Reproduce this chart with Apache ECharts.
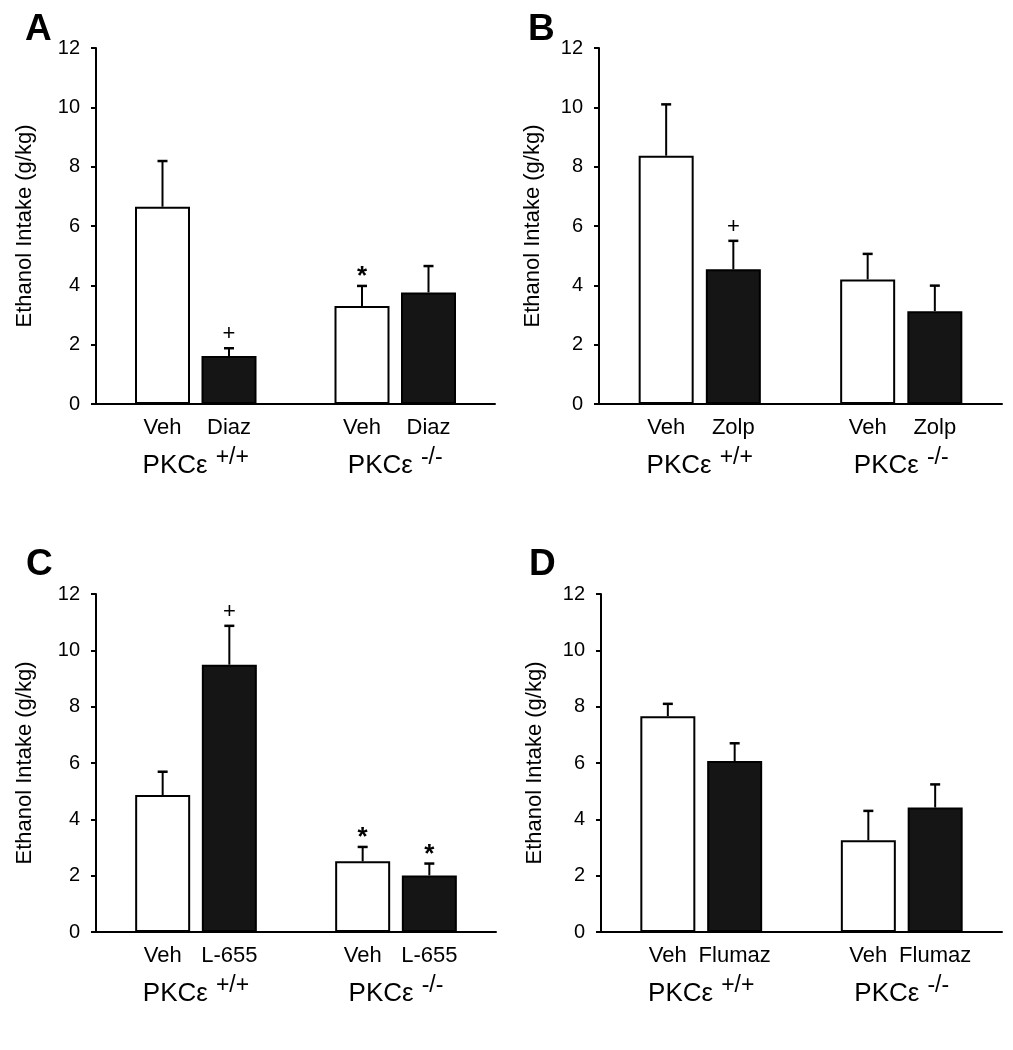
<!DOCTYPE html>
<html>
<head>
<meta charset="utf-8">
<script src="https://cdn.jsdelivr.net/npm/echarts@6/dist/echarts.min.js"></script>
<style>
html,body{margin:0;padding:0;background:#fff;}
#chart{width:1013px;height:1050px;}
</style>
</head>
<body>
<div id="chart"></div>
<script>
// ---- data ----
const panelLetters = ['A', 'B', 'C', 'D'];
const drugLabels = ['Diaz', 'Zolp', 'L-655', 'Flumaz'];
const vehLabel = 'Veh';
const genotypeLabels = ['+/+', '-/-'];
const genotypePrefix = 'PKC\u03b5';
const yAxisTitle = 'Ethanol Intake (g/kg)';
const yMin = 0, yMax = 12, yInterval = 2;

// order: Veh +/+, Drug +/+, Veh -/-, Drug -/-
const meanA = [6.65, 1.62, 3.30, 3.76];
const semA  = [1.54, 0.26, 0.68, 0.89];
const sigA  = ['', '+', '*', ''];

const meanB = [8.37, 4.54, 4.20, 3.13];
const semB  = [1.73, 0.96, 0.86, 0.86];
const sigB  = ['', '+', '', ''];

const meanC = [4.86, 9.49, 2.51, 2.01];
const semC  = [0.83, 1.38, 0.51, 0.42];
const sigC  = ['', '+', '*', '*'];

const meanD = [7.66, 6.07, 3.26, 4.42];
const semD  = [0.44, 0.63, 1.04, 0.82];
const sigD  = ['', '', '', ''];

const means = [meanA, meanB, meanC, meanD];
const sems = [semA, semB, semC, semD];
const sigs = [sigA, sigB, sigC, sigD];

// ---- layout ----
const FONT = '"Liberation Sans", Arial, sans-serif';
const grids = [
  {left: 96, top: 48, width: 399, height: 356},
  {left: 599, top: 48, width: 403, height: 356},
  {left: 96, top: 594, width: 400, height: 338},
  {left: 601, top: 594, width: 401, height: 338}
];
const letterPos = [[25, 11], [528, 11], [26, 546], [529, 546]];
const nameGaps = [60, 55, 60, 55];
// slot positions on the category axis (spacers at 0, 3, 6)
const slots = [1, 2, 4, 5];
const nSlots = 7;
const groupSlots = [3, 9]; // on half-step axis of 13 entries

const option = {
  animation: false,
  backgroundColor: '#fff',
  title: [],
  grid: [],
  xAxis: [],
  yAxis: [],
  series: []
};

panelLetters.forEach((letter, p) => {
  option.title.push({
    text: letter, left: letterPos[p][0], top: letterPos[p][1], padding: 0,
    textStyle: {fontFamily: FONT, fontWeight: 'bold', fontSize: 37, color: '#000'}
  });
  option.grid.push(Object.assign({containLabel: false}, grids[p]));

  const cats = new Array(nSlots).fill('');
  slots.forEach((s, i) => { cats[s] = (i % 2 === 0) ? vehLabel : drugLabels[p]; });
  option.xAxis.push({
    type: 'category', gridIndex: p, data: cats, boundaryGap: false,
    axisLine: {lineStyle: {color: '#000', width: 2}},
    axisTick: {show: false},
    axisLabel: {interval: 0, color: '#000', fontFamily: FONT, fontSize: 22, margin: 13},
    splitLine: {show: false}
  });
  const gcats = new Array(13).fill('');
  groupSlots.forEach((s, i) => { gcats[s] = genotypeLabels[i]; });
  option.xAxis.push({
    type: 'category', gridIndex: p, data: gcats, boundaryGap: false, position: 'bottom',
    axisLine: {show: false}, axisTick: {show: false}, splitLine: {show: false},
    axisLabel: {
      interval: 0, margin: 42, color: '#000',
      formatter: v => v ? '{b|' + genotypePrefix + '}{s|' + v + '}' : '',
      rich: {
        b: {fontFamily: FONT, fontSize: 26, color: '#000'},
        s: {fontFamily: FONT, fontSize: 23, color: '#000', padding: [0, 0, 16, 8]}
      }
    }
  });
  option.yAxis.push({
    type: 'value', gridIndex: p, min: yMin, max: yMax, interval: yInterval,
    name: yAxisTitle, nameLocation: 'middle', nameGap: nameGaps[p],
    nameTextStyle: {fontFamily: FONT, fontSize: 22, color: '#000'},
    axisLine: {show: true, lineStyle: {color: '#000', width: 2}},
    axisTick: {show: true, length: 5, lineStyle: {color: '#000', width: 2}},
    axisLabel: {color: '#000', fontFamily: FONT, fontSize: 20, margin: 16},
    splitLine: {show: false}
  });

  const barData = new Array(nSlots).fill(null);
  slots.forEach((s, i) => {
    barData[s] = {
      value: means[p][i],
      itemStyle: {color: (i % 2 === 0) ? '#ffffff' : '#151515', borderColor: '#000', borderWidth: 2}
    };
  });
  option.series.push({
    type: 'bar', xAxisIndex: 2 * p, yAxisIndex: p, data: barData, barWidth: 55,
    z: 2
  });

  const errData = slots.map((s, i) => [s, means[p][i], means[p][i] + sems[p][i]]);
  const sig = sigs[p];
  option.series.push({
    type: 'custom', xAxisIndex: 2 * p, yAxisIndex: p, data: errData, z: 3, clip: false,
    renderItem: (params, api) => {
      const x = api.value(0), m = api.value(1), t = api.value(2);
      const p0 = api.coord([x, m]);
      const p1 = api.coord([x, t]);
      const cap = 5;
      const children = [
        {type: 'line', shape: {x1: p0[0], y1: p0[1], x2: p1[0], y2: p1[1]}, style: {stroke: '#000', lineWidth: 2}},
        {type: 'line', shape: {x1: p1[0] - cap, y1: p1[1], x2: p1[0] + cap, y2: p1[1]}, style: {stroke: '#000', lineWidth: 2.5}}
      ];
      const s = sig[params.dataIndex];
      if (s) {
        const isStar = s === '*';
        children.push({
          type: 'text',
          style: {text: s, x: p1[0], y: p1[1] - (isStar ? 9 : 14), align: 'center', verticalAlign: 'middle',
                  font: (isStar ? 'bold 26px ' : '22px ') + FONT, fill: '#000'}
        });
      }
      return {type: 'group', children};
    }
  });
});

const chart = echarts.init(document.getElementById('chart'), null, {renderer: 'canvas'});
chart.setOption(option);
</script>
</body>
</html>
